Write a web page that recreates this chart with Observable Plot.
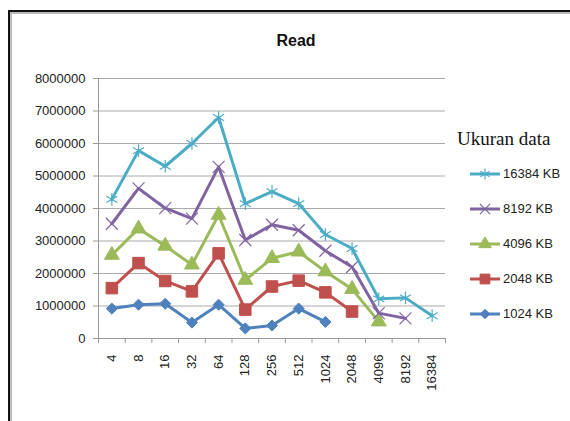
<!DOCTYPE html>
<html>
<head>
<meta charset="utf-8">
<script src="https://cdn.jsdelivr.net/npm/d3@7"></script>
<script src="https://cdn.jsdelivr.net/npm/@observablehq/plot@0.6"></script>
<style>
  html, body { margin: 0; padding: 0; background: #fff; }
  #wrap { position: relative; width: 570px; height: 421px; overflow: hidden; font-family: "Liberation Sans", Arial, sans-serif; }
  #frame { position: absolute; left: 8px; top: 10px; width: 600px; height: 440px;
           border-left: 2px solid #111; border-top: 2px solid #111;
           box-shadow: inset 2px 2px 0 #bbb; }
  #title { position: absolute; left: 246px; width: 100px; top: 32px; text-align: center;
           font-weight: bold; font-size: 16px; color: #111; }
  #chart { position: absolute; left: 0; top: 0; }
  #legend { position: absolute; left: 457px; top: 128px; }
  #legend .head { font-family: "Liberation Serif", "Times New Roman", serif; font-size: 19px; color: #111; height: 28px; }
  #legend .row { display: flex; align-items: center; height: 35px; margin-left: 12px; }
  #legend .row span { font-size: 13px; color: #222; margin-left: 2px; }
</style>
</head>
<body>
<div id="wrap">
  <div id="frame"></div>
  <div id="chart"></div>
  <div id="title">Read</div>
  <div id="legend"></div>
</div>
<script>
const categories = ["4","8","16","32","64","128","256","512","1024","2048","4096","8192","16384"];
const yTicks = [0, 1000000, 2000000, 3000000, 4000000, 5000000, 6000000, 7000000, 8000000];

const seriesNames = ["16384 KB", "8192 KB", "4096 KB", "2048 KB", "1024 KB"];
const seriesColors = ["#4BACC6", "#8064A2", "#9BBB59", "#C0504D", "#4F81BD"];
const seriesSymbols = ["asterisk", "times", "triangle", "square", "diamond2"];

const s16384 = [4280000, 5780000, 5300000, 6000000, 6800000, 4150000, 4520000, 4150000, 3200000, 2770000, 1220000, 1250000, 700000];
const s8192  = [3530000, 4620000, 4010000, 3690000, 5280000, 3030000, 3500000, 3330000, 2700000, 2200000, 780000, 620000, null];
const s4096  = [2570000, 3380000, 2850000, 2270000, 3800000, 1800000, 2470000, 2670000, 2060000, 1520000, 520000, null, null];
const s2048  = [1550000, 2320000, 1770000, 1450000, 2620000, 890000, 1600000, 1780000, 1420000, 830000, null, null, null];
const s1024  = [920000, 1040000, 1070000, 490000, 1040000, 310000, 400000, 920000, 510000, null, null, null, null];

const seriesValues = [s16384, s8192, s4096, s2048, s1024];

const data = [];
seriesValues.forEach((vals, si) => {
  vals.forEach((v, i) => {
    if (v != null) data.push({series: seriesNames[si], i, cat: categories[i], value: v});
  });
});
// draw 1024 first, 16384 last
const drawOrder = seriesNames.slice().reverse();

const idx = categories.map((_, i) => i);
const boundaries = categories.map((_, i) => i - 0.5).concat([categories.length - 0.5]);

const symbolSize = {"asterisk": 6, "times": 5.5, "triangle": 5.5, "square": 6.5, "diamond2": 5};
const isStroked = sym => sym === "asterisk" || sym === "times";

const marks = [
  Plot.gridY(yTicks.slice(1), {stroke: "#aaaaaa", strokeOpacity: 1}),
  Plot.axisY({ticks: yTicks, tickFormat: d3.format("d"), tickSize: 5, tickPadding: 8, stroke: "#999", fill: "#222", label: null}),
  Plot.ruleX([-0.5], {stroke: "#999"}),
  Plot.ruleY([0], {stroke: "#999"}),
  Plot.axisX({ticks: boundaries, tickSize: 5, tickFormat: () => "", stroke: "#999", label: null}),
  Plot.axisX({ticks: idx, tickSize: 0, tickPadding: 16, tickRotate: -90, tickFormat: i => categories[i], fill: "#222", label: null})
];

drawOrder.forEach(name => {
  const si = seriesNames.indexOf(name);
  const sub = data.filter(d => d.series === name);
  const sym = seriesSymbols[si];
  marks.push(Plot.line(sub, {x: "i", y: "value", stroke: seriesColors[si], strokeWidth: 3}));
  marks.push(Plot.dot(sub, isStroked(sym)
    ? {x: "i", y: "value", symbol: () => sym, r: symbolSize[sym], stroke: seriesColors[si], strokeWidth: 1.2, fill: "none"}
    : {x: "i", y: "value", symbol: () => sym, r: symbolSize[sym], fill: seriesColors[si], stroke: seriesColors[si], strokeWidth: 1}));
});

const chart = Plot.plot({
  width: 570,
  height: 421,
  marginLeft: 98,
  marginRight: 125,
  marginTop: 78,
  marginBottom: 83,
  style: {fontFamily: "Liberation Sans, Arial, sans-serif", fontSize: "13px", background: "transparent"},
  x: {type: "linear", domain: [-0.5, categories.length - 0.5], axis: null},
  y: {domain: [0, 8000000], axis: null},
  symbol: {type: "identity"},
  marks
});
document.getElementById("chart").appendChild(chart);

// legend
const legend = document.getElementById("legend");
const head = document.createElement("div");
head.className = "head";
head.textContent = "Ukuran data";
legend.appendChild(head);
const symMap = {asterisk: d3.symbolAsterisk, times: d3.symbolTimes, triangle: d3.symbolTriangle, square: d3.symbolSquare, diamond2: d3.symbolDiamond2};
seriesNames.forEach((name, si) => {
  const row = document.createElement("div");
  row.className = "row";
  const sym = seriesSymbols[si];
  const r = symbolSize[sym] * 0.85;
  const path = d3.symbol(symMap[sym], Math.PI * r * r)();
  row.innerHTML = `<svg width="32" height="14" viewBox="0 0 32 14">
    <line x1="1" y1="7" x2="31" y2="7" stroke="${seriesColors[si]}" stroke-width="3"/>
    <path transform="translate(16,7)" d="${path}" ${isStroked(sym) ? `fill="none" stroke="${seriesColors[si]}" stroke-width="1.2"` : `fill="${seriesColors[si]}" stroke="${seriesColors[si]}"`}/>
  </svg><span>${name}</span>`;
  legend.appendChild(row);
});
</script>
</body>
</html>
